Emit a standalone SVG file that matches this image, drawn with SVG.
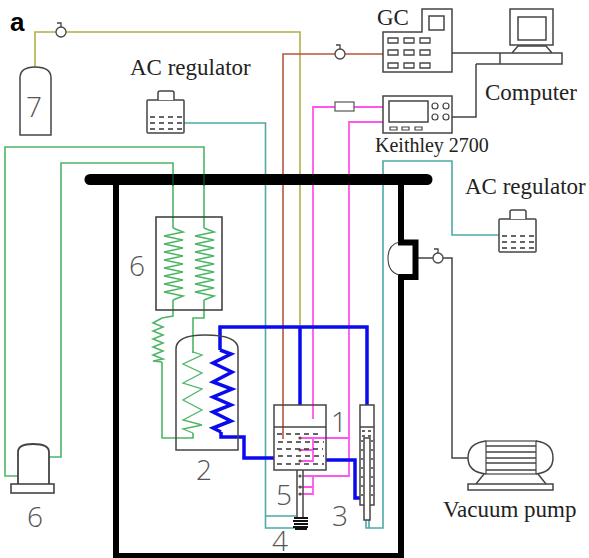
<svg xmlns="http://www.w3.org/2000/svg" xmlns:xlink="http://www.w3.org/1999/xlink" width="589" height="558" viewBox="0 0 589 558">
<style>
.l{fill:none;stroke-linejoin:miter}
.e{fill:none;stroke:#444;stroke-width:1.5}
.w{fill:#fff;stroke:#444;stroke-width:1.5}
.g{fill:none;stroke:#4fb566;stroke-width:1.6}
.t{fill:none;stroke:#4fa9a6;stroke-width:1.6}
.p{fill:none;stroke:#ff55ee;stroke-width:1.8}
.b{fill:none;stroke:#0a0aee;stroke-width:3.5}
.d{fill:none;stroke:#333;stroke-width:1.4;stroke-dasharray:5 4}
.s{font-family:"Liberation Serif",serif;fill:#222}
.n{font-family:"Open Sans","Liberation Sans",sans-serif;font-weight:300;font-size:28px;fill:#555}
</style>
<defs>
<polyline id="coil" class="g" points="0,0 10,4 -9,8 10,12 -9,16 10,20 -9,24 10,28 -9,32 10,36 -9,40 10,44 -9,48 10,52 -9,56 10,60 -9,64 10,68 0,72"/>
<g id="valve"><circle cx="0" cy="0" r="5" fill="#fff" stroke="#444" stroke-width="1.3"/><path d="M0,-5V-9H-4" fill="none" stroke="#444" stroke-width="1.3"/></g>
<g id="reg">
<rect x="0" y="9" width="37" height="33" rx="1" fill="#fff" stroke="#444" stroke-width="1.5"/>
<path d="M11,9V2Q11,0 13,0H25Q27,0 27,2V9" fill="#fff" stroke="#444" stroke-width="1.5"/>
<path d="M3,26H35M3,32H35M3,38H35" class="d" stroke-dasharray="5 3"/>
</g>
</defs>

<g id="connectors">
<path class="l" stroke="#b5ae45" stroke-width="1.6" d="M35,67V32H300V325"/>
<path class="l" stroke="#b5583a" stroke-width="1.6" d="M383,54H283V439"/>
<path class="t" d="M184,123H265.500V528H296M265.500,516H296"/>
<path class="t" d="M499,235H452V161H383V528H366V520M369,528V520"/>
<path class="p" d="M383,107H313V419M383,122H349V476H303M349,438H301M313,438V461H301M313,450H301M313,476V494H301M313,487H301"/>
<path class="g" d="M204,228V147H5V476H18M173,228V163H61V457H49"/>
<path class="g" d="M173,300V316L162,318M193,353V318H204V300M162,362V438H193V433"/>
<path class="e" d="M452,53H500M476,64V117H452M500,53V64"/>
<path class="e" d="M418,258H452V458H468"/>
<path class="b" d="M300,405V327M220,350V327H367V405M274,458H244V437H221V432M326,460H355V498H360"/>
</g>

<g id="frame">
<path fill="none" stroke="#000" stroke-width="6" d="M116,179V556H401V277H415.500V242.500H401V179"/>
<path fill="none" stroke="#000" stroke-width="11" stroke-linecap="round" d="M90,179.500H427"/>
<path d="M173,174V186M204,174V186" fill="none" stroke="#1a6a35" stroke-width="1"/>
</g>

<g id="cylinder7">
<path class="e" d="M20,135V78Q20,67 35,67Q51,67 51,78V135Z"/>
<text class="n" x="26" y="117">7</text>
</g>
<g id="ac1"><use xlink:href="#reg" x="147" y="91"/></g>
<g id="ac2"><use xlink:href="#reg" x="499" y="210"/></g>
<g id="valves">
<use xlink:href="#valve" x="61" y="32"/>
<use xlink:href="#valve" x="340" y="54"/>
<use xlink:href="#valve" x="438" y="258"/>
</g>

<g id="gc">
<path class="w" d="M383,32H422V9H452V72H383Z"/>
<rect class="e" x="429" y="16" width="15" height="14"/>
<path class="e" style="stroke-width:1.3" d="M388,38h10v5h-10zM404,38h10v5h-10zM420,38h10v5h-10zM388,50h10v5h-10zM404,50h10v5h-10zM420,50h10v5h-10zM388,63h10v5h-10zM404,63h10v5h-10zM420,63h10v5h-10z"/>
</g>
<g id="keithley">
<rect class="w" x="383" y="96" width="69" height="37"/>
<rect class="e" x="389" y="101" width="39" height="21"/>
<g class="e" style="stroke-width:1.2"><circle cx="435" cy="106" r="3"/><circle cx="446" cy="106" r="3"/><circle cx="435" cy="117" r="3"/><circle cx="446" cy="117" r="3"/></g>
<path class="e" style="stroke-width:1.2" d="M390,127h7v3h-7zM402,127h7v3h-7zM415,127h7v3h-7z"/>
<rect x="335" y="102" width="19" height="9" fill="#fff" stroke="#555" stroke-width="1.2"/>
</g>
<g id="computer">
<rect class="w" x="510" y="9" width="43" height="36"/>
<rect class="e" x="518" y="17" width="28" height="23"/>
<path class="e" d="M512,53L518,46H546L552,53M500,53H562V64H476"/>
</g>

<g id="box6">
<rect class="e" x="156" y="217" width="66" height="93" style="stroke-width:1.6"/>
<use xlink:href="#coil" x="173" y="228"/>
<use xlink:href="#coil" x="204" y="228"/>
<text class="n" x="129" y="276">6</text>
</g>
<g id="smallcoil">
<polyline class="g" points="162,318 153,323 163,327 153,331 163,335 153,339 163,343 153,347 163,351 153,355 163,359 153,361 162,362"/>
</g>
<g id="vessel2">
<path class="e" d="M176,450V349Q176,335 205,335Q238,335 238,349V450Z"/>
<polyline class="g" style="stroke-width:1.3" points="193,353 193,352 202,355 183,364 202,373 183,383 202,389 183,400 202,410 183,420 202,425 183,429 193,433"/>
<polyline class="b" points="220,350 231,354 213,363 232,372 213,382 232,389 213,397 231,405 213,412 231,421 213,428 221,432"/>
<text class="n" x="196" y="480">2</text>
</g>
<g id="reactor1">
<rect class="e" x="274" y="405" width="52" height="65"/>
<path class="e" d="M274,427H326"/>
<path class="d" d="M277,434H322M278,442H324M277,449H323M278,456H324M277,464H324"/>
<text class="n" x="331" y="432">1</text>
</g>
<g id="heater5">
<path class="e" d="M297,470V518M303,470V518"/>
<path d="M294,518H308M293,521H308M294,524H308M293,527H308M295,529H307" fill="none" stroke="#111" stroke-width="1.8"/>
<g fill="#553"><circle cx="300" cy="476" r="1.6"/><circle cx="300" cy="487" r="1.6"/><circle cx="300" cy="494" r="1.6"/><circle cx="300" cy="438" r="1.6"/><circle cx="300" cy="450" r="1.6"/><circle cx="300" cy="461" r="1.6"/></g>
<text class="n" x="276" y="505">5</text>
<text class="n" x="272" y="551">4</text>
</g>
<g id="column3">
<rect class="e" x="360" y="405" width="14" height="100"/>
<path class="e" d="M360,427H374"/>
<path class="d" style="stroke-dasharray:3 3" d="M362,431H372M362,436H372"/>
<rect x="364" y="438" width="6" height="82" fill="#fff" stroke="#444" stroke-width="1.5"/>
<path class="d" style="stroke-dasharray:2 7" d="M362,440V503M372,440V503"/>
<text class="n" x="332" y="526">3</text>
</g>

<g id="chamber-port">
<path class="e" style="stroke-width:1.1" d="M399,242Q388,245 388,258Q388,272 399,275"/>
</g>
<g id="blower6">
<path class="e" style="stroke-width:1.8" d="M18,484V452Q18,444 33,444Q49,444 49,452V484"/>
<rect class="e" x="11" y="484" width="43" height="9" style="stroke-width:1.6"/>
<text class="n" x="27" y="527">6</text>
</g>
<g id="pump">
<path class="e" d="M486,441Q468,443 468,458Q468,472 486,474M536,441Q553,443 553,458Q553,472 536,474"/>
<rect class="e" x="486" y="441" width="50" height="33" style="stroke-width:1.2"/>
<path class="e" d="M486,446H536M486,452H536M486,458H536M486,463H536M486,470H536"/>
<path class="e" d="M476,484L484,474M546,484L538,474"/>
<rect class="e" x="468" y="484" width="85" height="6"/>
</g>

<g id="labels">
<text x="10" y="31" font-family="Liberation Sans,sans-serif" font-weight="700" font-size="26">a</text>
<text class="s" x="130" y="75" font-size="23">AC regulator</text>
<text class="s" x="465" y="194" font-size="23">AC regulator</text>
<text class="s" x="377" y="25" font-size="23">GC</text>
<text class="s" x="485" y="100" font-size="23">Computer</text>
<text class="s" x="375" y="152" font-size="20">Keithley 2700</text>
<text class="s" x="443" y="517" font-size="23">Vacuum pump</text>
</g>
</svg>
